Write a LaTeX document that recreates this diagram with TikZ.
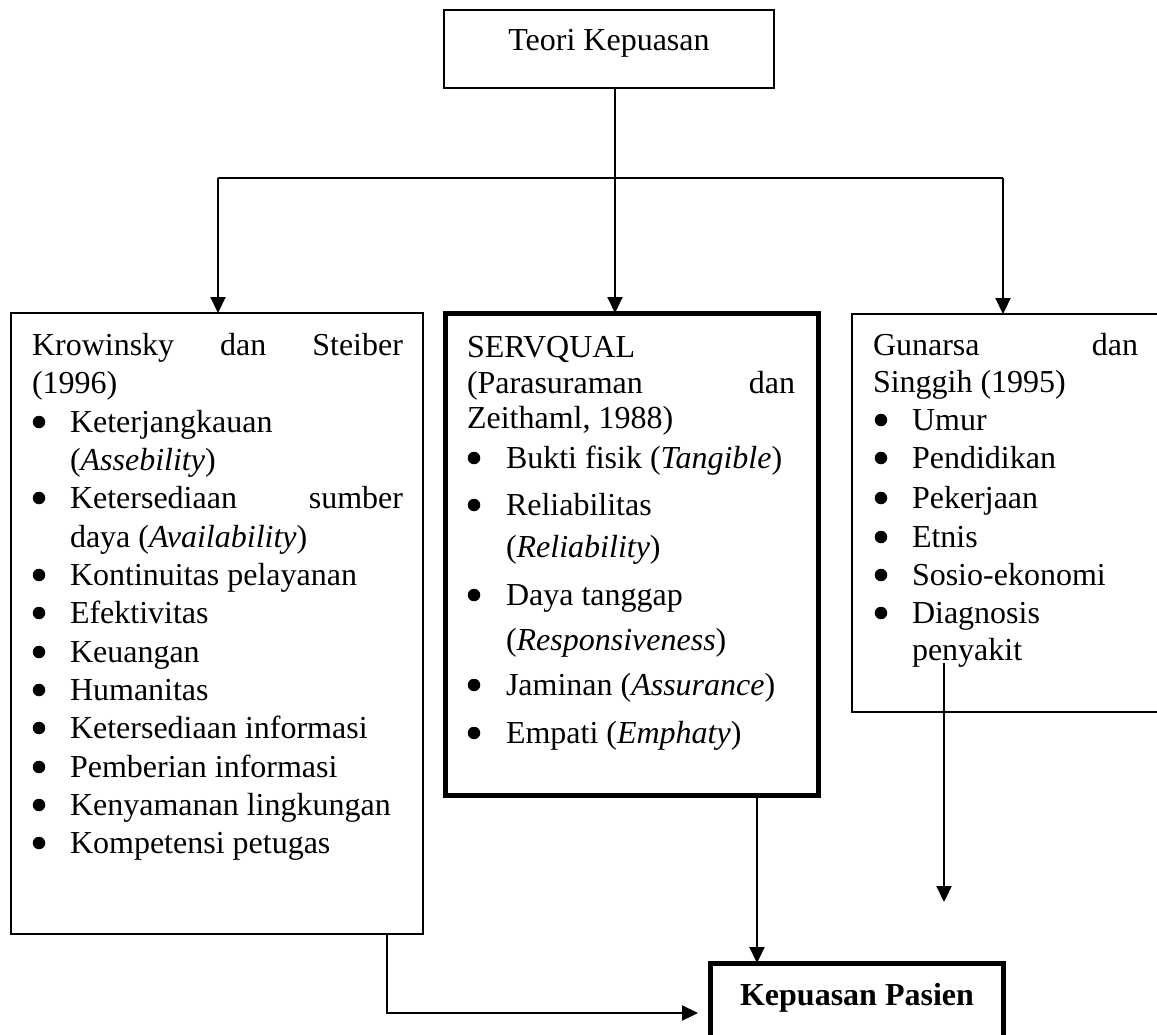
\documentclass[tikz,border=0pt]{standalone}
\usepackage{fontspec}
\setmainfont{Liberation Serif}
\usetikzlibrary{arrows.meta}
\begin{document}
\begin{tikzpicture}[x=1pt,y=-1pt,
  box/.style={draw, line width=2pt, inner sep=0pt, outer sep=0pt, anchor=north west},
  thickbox/.style={draw, line width=5pt, inner sep=0pt, outer sep=0pt, anchor=north west},
  conn/.style={line width=2.2pt, -{Triangle[width=15pt,length=16pt]}},
  plain/.style={line width=2.2pt},
  txt/.style={anchor=base west, inner sep=0pt, outer sep=0pt, font=\fontsize{32}{38}\selectfont},
  ctxt/.style={anchor=base, inner sep=0pt, outer sep=0pt, font=\fontsize{32}{38}\selectfont},
  bul/.style={circle, fill, inner sep=0pt, minimum size=12.5pt}]
\useasboundingbox (0,0) rectangle (1157,1034);
% boxes
\node[box, minimum width=330pt, minimum height=78pt] (top) at (444,10) {};
\node[box, minimum width=412pt, minimum height=621pt] (left) at (11,313) {};
\node[thickbox, minimum width=373pt, minimum height=482pt] (mid) at (445,313) {};
\node[box, minimum width=330pt, minimum height=398pt] (right) at (852,314) {};
\node[thickbox, minimum width=293pt, minimum height=85pt] (kp) at (710,963) {};
% box texts
\node[ctxt] (ttop) at (609,50) {Teori Kepuasan};
\node[ctxt, font=\fontsize{32}{38}\selectfont\bfseries] (tkp) at (857,1005) {Kepuasan Pasien};
% left box
\node[txt] (l1) at (32,355) {\makebox[371pt][s]{Krowinsky dan Steiber}};
\node[txt] (l2) at (32,393) {(1996)};
\node[txt] (l3) at (70,432) {Keterjangkauan};
\node[txt] (l4) at (70,470) {(\textit{Assebility})};
\node[txt] (l5) at (70,508) {\makebox[333pt][s]{Ketersediaan sumber}};
\node[txt] (l6) at (70,547) {daya (\textit{Availability})};
\node[txt] (l7) at (70,585) {Kontinuitas pelayanan};
\node[txt] (l8) at (70,623) {Efektivitas};
\node[txt] (l9) at (70,662) {Keuangan};
\node[txt] (l10) at (70,700) {Humanitas};
\node[txt] (l11) at (70,738) {Ketersediaan informasi};
\node[txt] (l12) at (70,777) {Pemberian informasi};
\node[txt] (l13) at (70,815) {Kenyamanan lingkungan};
\node[txt] (l14) at (70,853) {Kompetensi petugas};
\foreach \y [count=\i] in {432,508,585,623,662,700,738,777,815,853}
  \node[bul] (lb\i) at (39,\y-10) {};
% middle box
\node[txt] (m1) at (467,357) {SERVQUAL};
\node[txt] (m2) at (467,393) {\makebox[328pt][s]{(Parasuraman dan}};
\node[txt] (m3) at (467,428) {Zeithaml, 1988)};
\node[txt] (m4) at (506,468) {Bukti fisik (\textit{Tangible})};
\node[txt] (m5) at (506,515) {Reliabilitas};
\node[txt] (m6) at (506,557) {(\textit{Reliability})};
\node[txt] (m7) at (506,605) {Daya tanggap};
\node[txt] (m8) at (506,650) {(\textit{Responsiveness})};
\node[txt] (m9) at (506,695) {Jaminan (\textit{Assurance})};
\node[txt] (m10) at (506,743) {Empati (\textit{Emphaty})};
\foreach \y [count=\i] in {468,515,605,695,743}
  \node[bul] (mb\i) at (474,\y-10) {};
% right box
\node[txt] (r1) at (873,355) {\makebox[265pt][s]{Gunarsa dan}};
\node[txt] (r2) at (873,392) {Singgih (1995)};
\node[txt] (r3) at (912,430) {Umur};
\node[txt] (r4) at (912,468) {Pendidikan};
\node[txt] (r5) at (912,508) {Pekerjaan};
\node[txt] (r6) at (912,547) {Etnis};
\node[txt] (r7) at (912,585) {Sosio-ekonomi};
\node[txt] (r8) at (912,623) {Diagnosis};
\node[txt] (r9) at (912,660) {penyakit};
\foreach \y [count=\i] in {430,468,508,547,585,623}
  \node[bul] (rb\i) at (881,\y-10) {};
% connectors
\coordinate (hub) at (615,178);
\coordinate (junL) at (218,178);
\coordinate (junR) at (1003,178);
\draw[plain] (hub |- top.south) -- (hub);
\draw[plain] (junL) -- (junR);
\draw[conn] (junL) -- (junL |- left.north);
\draw[conn] (hub) -- (hub |- mid.north);
\draw[conn] (junR) -- (junR |- right.north);
\coordinate (mdrop) at (757,795);
\draw[conn] (mdrop |- mid.south) -- (mdrop |- kp.north);
\coordinate (rstart) at (944,663);
\coordinate (rend) at (944,902);
\draw[conn] (rstart) -- (rend);
\coordinate (lx) at (387,1013);
\draw[conn, shorten >=12pt] (lx |- left.south) -- (lx) -- (lx -| kp.west);
\end{tikzpicture}
\end{document}
